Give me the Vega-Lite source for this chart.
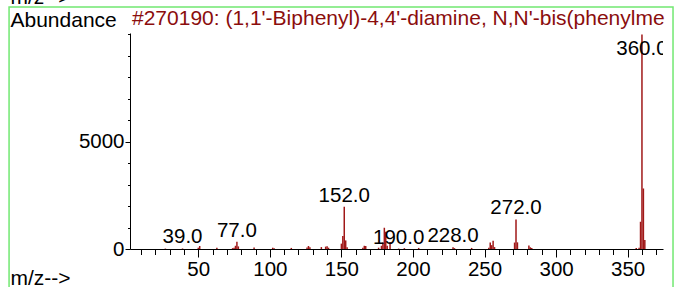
{
  "$schema": "https://vega.github.io/schema/vega-lite/v6.json",
  "width": 533,
  "height": 216,
  "autosize": {"type": "none"},
  "padding": {"left": 130, "top": 33, "right": 14, "bottom": 38},
  "background": "white",
  "title": {
    "text": "#270190: (1,1'-Biphenyl)-4,4'-diamine, N,N'-bis(phenylme",
    "anchor": "start",
    "frame": "group",
    "color": "#8b0d0d",
    "fontSize": 21,
    "font": "Liberation Sans",
    "fontWeight": "normal",
    "dx": 2,
    "dy": 50,
    "offset": 7
  },
  "datasets": {
    "peaks": [
      {"mz": 27, "abundance": 20}, {"mz": 39, "abundance": 25}, {"mz": 50, "abundance": 60},
      {"mz": 51, "abundance": 140}, {"mz": 63, "abundance": 60}, {"mz": 74, "abundance": 40},
      {"mz": 75, "abundance": 60}, {"mz": 76, "abundance": 150}, {"mz": 77, "abundance": 340},
      {"mz": 78, "abundance": 120}, {"mz": 89, "abundance": 70}, {"mz": 102, "abundance": 60},
      {"mz": 103, "abundance": 40}, {"mz": 115, "abundance": 50}, {"mz": 126, "abundance": 70},
      {"mz": 127, "abundance": 140}, {"mz": 128, "abundance": 80}, {"mz": 136, "abundance": 90},
      {"mz": 139, "abundance": 110}, {"mz": 140, "abundance": 130}, {"mz": 141, "abundance": 60},
      {"mz": 150, "abundance": 250}, {"mz": 151, "abundance": 600}, {"mz": 152, "abundance": 1970},
      {"mz": 153, "abundance": 400}, {"mz": 154, "abundance": 80}, {"mz": 165, "abundance": 60},
      {"mz": 166, "abundance": 150}, {"mz": 167, "abundance": 140}, {"mz": 176, "abundance": 60},
      {"mz": 178, "abundance": 150}, {"mz": 179, "abundance": 300}, {"mz": 180, "abundance": 990},
      {"mz": 181, "abundance": 800}, {"mz": 182, "abundance": 150}, {"mz": 184, "abundance": 330},
      {"mz": 190, "abundance": 20}, {"mz": 194, "abundance": 40}, {"mz": 204, "abundance": 50},
      {"mz": 228, "abundance": 80}, {"mz": 229, "abundance": 40}, {"mz": 241, "abundance": 50},
      {"mz": 253, "abundance": 60}, {"mz": 254, "abundance": 300}, {"mz": 255, "abundance": 180},
      {"mz": 256, "abundance": 390}, {"mz": 257, "abundance": 90}, {"mz": 271, "abundance": 300},
      {"mz": 272, "abundance": 1380}, {"mz": 273, "abundance": 310}, {"mz": 281, "abundance": 160},
      {"mz": 282, "abundance": 80}, {"mz": 283, "abundance": 50}, {"mz": 356, "abundance": 50},
      {"mz": 358, "abundance": 60}, {"mz": 359, "abundance": 1270}, {"mz": 360, "abundance": 10000},
      {"mz": 361, "abundance": 2820}, {"mz": 362, "abundance": 420}
    ]
  },
  "data": {"name": "peaks"},
  "resolve": {"axis": {"x": "independent", "y": "independent"}},
  "layer": [
    {
      "data": {"values": [{}]},
      "mark": {"type": "rect", "filled": false, "stroke": "#72e872", "strokeWidth": 1.5, "clip": false},
      "encoding": {
        "x": {
          "datum": -82.2, "type": "quantitative",
          "axis": {
            "orient": "bottom",
            "values": [10, 20, 30, 40, 60, 70, 80, 90, 110, 120, 130, 140, 160, 170, 180, 190, 210, 220, 230, 240, 260, 270, 280, 290, 310, 320, 330, 340, 360, 370],
            "labels": false,
            "domain": false,
            "tickSize": 5.5,
            "title": null
          }
        },
        "x2": {"datum": 381.7},
        "y": {
          "datum": 11277, "type": "quantitative",
          "axis": {
            "orient": "left",
            "values": [1000, 2000, 3000, 4000, 6000, 7000, 8000, 9000, 10000],
            "labels": false,
            "domain": false,
            "tickSize": 2.5,
            "title": null
          }
        },
        "y2": {"datum": -2376}
      }
    },
    {
      "mark": {"type": "rule", "color": "#a01818", "strokeWidth": 1.5},
      "encoding": {
        "x": {
          "field": "mz", "type": "quantitative",
          "scale": {"domain": [2.3, 374.7], "nice": false, "zero": false},
          "axis": {
            "orient": "bottom",
            "values": [50, 100, 150, 200, 250, 300, 350],
            "tickSize": 8,
            "labelPadding": 2,
            "labelOverlap": false,
            "labelFlush": false,
            "title": "m/z-->",
            "titleX": -120,
            "titleY": 35,
            "titleAlign": "left",
            "titleBaseline": "alphabetic",
            "titleAngle": 0
          }
        },
        "y": {
          "field": "abundance", "type": "quantitative",
          "scale": {"domain": [0, 10065], "nice": false},
          "axis": {
            "orient": "left",
            "values": [0, 5000],
            "format": "d",
            "tickSize": 5,
            "labelPadding": 1,
            "labelOverlap": false,
            "labelFlush": false,
            "title": "Abundance",
            "titleX": -120,
            "titleY": -7,
            "titleAlign": "left",
            "titleBaseline": "alphabetic",
            "titleAngle": 0
          }
        },
        "y2": {"datum": 0}
      }
    },
    {
      "transform": [
        {"filter": {"field": "mz", "oneOf": [39, 77, 152, 190, 228, 272, 360]}},
        {"filter": "datum.abundance < 5000"}
      ],
      "mark": {"type": "text", "baseline": "alphabetic", "dy": -5, "fontSize": 20.5, "color": "black", "clip": true},
      "encoding": {
        "x": {"field": "mz", "type": "quantitative", "axis": null},
        "y": {"field": "abundance", "type": "quantitative", "axis": null},
        "text": {"field": "mz", "type": "quantitative", "format": ".1f"}
      }
    },
    {
      "transform": [
        {"filter": {"field": "mz", "oneOf": [39, 77, 152, 190, 228, 272, 360]}},
        {"filter": "datum.abundance >= 5000"}
      ],
      "mark": {"type": "text", "baseline": "top", "dy": 5, "fontSize": 20.5, "color": "black", "clip": true},
      "encoding": {
        "x": {
          "field": "mz", "type": "quantitative",
          "axis": {
            "orient": "top",
            "ticks": false,
            "labels": false,
            "domain": false,
            "title": "m/z-->",
            "titleX": -120,
            "titleY": -30,
            "titleAlign": "left",
            "titleBaseline": "alphabetic",
            "titleAngle": 0
          }
        },
        "y": {"field": "abundance", "type": "quantitative", "axis": null},
        "text": {"field": "mz", "type": "quantitative", "format": ".1f"}
      }
    }
  ],
  "config": {
    "font": "Liberation Sans",
    "view": {"stroke": null},
    "axis": {
      "grid": false,
      "domainColor": "black",
      "domainWidth": 1,
      "tickColor": "black",
      "tickWidth": 1,
      "labelColor": "black",
      "labelFontSize": 20.5,
      "labelFont": "Liberation Sans",
      "titleColor": "black",
      "titleFontSize": 21,
      "titleFont": "Liberation Sans",
      "titleFontWeight": "normal"
    }
  }
}
